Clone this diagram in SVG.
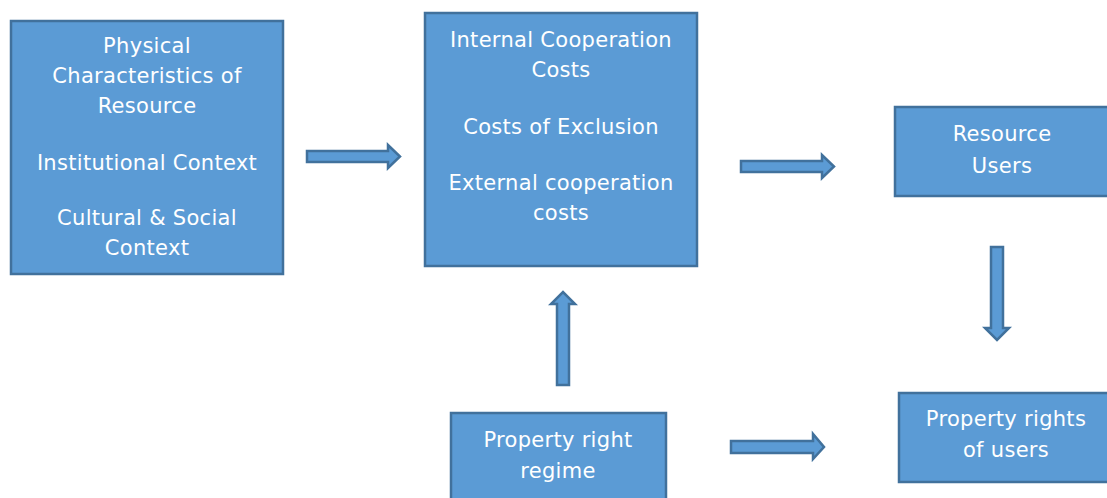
<svg xmlns="http://www.w3.org/2000/svg" width="1107" height="498" viewBox="0 0 1107 498">
  <style>
    .box { fill: #5B9BD5; stroke: #41719C; stroke-width: 2.5; }
    .arrow { fill: #5B9BD5; stroke: #41719C; stroke-width: 2.5; stroke-linejoin: miter; }
    .lbl { font-family: "DejaVu Sans", Verdana, sans-serif; font-size: 21px; letter-spacing: 0.3px; fill: #FFFFFF; text-anchor: middle; }
  </style>
  <rect width="1107" height="498" fill="#FFFFFF"/>

  <!-- Factors -->
  <g id="node-factors">
    <rect class="box" x="11" y="21" width="272" height="253"/>
    <text class="lbl" x="147" y="53">Physical</text>
    <text class="lbl" x="147" y="83">Characteristics of</text>
    <text class="lbl" x="147" y="113">Resource</text>
    <text class="lbl" x="147" y="170">Institutional Context</text>
    <text class="lbl" x="147" y="225">Cultural &amp; Social</text>
    <text class="lbl" x="147" y="255">Context</text>
  </g>

  <!-- Costs -->
  <g id="node-costs">
    <rect class="box" x="425" y="13" width="272" height="253"/>
    <text class="lbl" x="561" y="47">Internal Cooperation</text>
    <text class="lbl" x="561" y="77">Costs</text>
    <text class="lbl" x="561" y="134">Costs of Exclusion</text>
    <text class="lbl" x="561" y="190">External cooperation</text>
    <text class="lbl" x="561" y="220">costs</text>
  </g>

  <!-- Resource users -->
  <g id="node-users">
    <rect class="box" x="895" y="107" width="216" height="89"/>
    <text class="lbl" x="1002" y="141">Resource</text>
    <text class="lbl" x="1002" y="173">Users</text>
  </g>

  <!-- Property rights of users -->
  <g id="node-user-rights">
    <rect class="box" x="899" y="393" width="216" height="89"/>
    <text class="lbl" x="1006" y="426">Property rights</text>
    <text class="lbl" x="1006" y="457">of users</text>
  </g>

  <!-- Property right regime -->
  <g id="node-regime">
    <rect class="box" x="451" y="413" width="215" height="100"/>
    <text class="lbl" x="558" y="447">Property right</text>
    <text class="lbl" x="558" y="478">regime</text>
  </g>

  <!-- Block arrows between nodes -->
  <g id="connectors">
    <polygon class="arrow" points="307,151 388,151 388,145 400,156.5 388,168 388,162 307,162"/>
    <polygon class="arrow" points="741,161 822,161 822,155 834,166.5 822,178 822,172 741,172"/>
    <polygon class="arrow" points="731,441 813,441 813,434 824,447 813,459 813,453 731,453"/>
    <polygon class="arrow" points="557,385 557,304 551,304 563,292 575,304 569,304 569,385"/>
    <polygon class="arrow" points="991,247 1003,247 1003,328 1009,328 997,340 985,328 991,328"/>
  </g>
</svg>
